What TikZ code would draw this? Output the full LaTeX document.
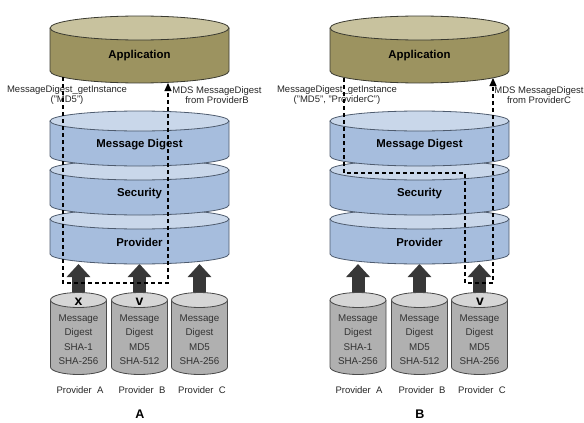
\documentclass[tikz,border=0pt]{standalone}
\usepackage{fontspec}
\setmainfont{Liberation Sans}
\usetikzlibrary{arrows.meta}

\definecolor{appT}{HTML}{C8C29E}
\definecolor{appS}{HTML}{9C9360}
\definecolor{appD}{HTML}{3A3A30}
\definecolor{layT}{HTML}{C9D7EA}
\definecolor{layS}{HTML}{A6BDDD}
\definecolor{layD}{HTML}{4E5B6E}
\definecolor{stoT}{HTML}{D6D6D6}
\definecolor{stoS}{HTML}{B0B0B0}
\definecolor{stoD}{HTML}{4A4A4A}
\definecolor{push}{HTML}{383838}

\pgfdeclarelayer{bg}
\pgfsetlayers{bg,main}

% drum: name, x, top y, bottom y, x radius, y radius, colour set, text, text style
\newcommand{\drum}[9]{%
  \fill[#7S] (#2-#5,#3) -- (#2-#5,#4) arc[start angle=180, end angle=360, x radius=#5pt, y radius=#6pt] -- (#2+#5,#3) -- cycle;
  \draw[#7D, line width=0.8pt] (#2-#5,#3) -- (#2-#5,#4) arc[start angle=180, end angle=360, x radius=#5pt, y radius=#6pt] -- (#2+#5,#3);
  \draw[#7D, line width=0.8pt, fill=#7T] (#2,#3) ellipse[x radius=#5pt, y radius=#6pt];
  \coordinate (#1-top) at (#2,#3);
  \coordinate (#1-bot) at (#2,{#4+#6});
  \node[#9] (#1) at (#2,{(#3+#4)/2+6}) {#8};
}

\tikzset{
  layer/.style={font=\fontsize{11.4}{13}\selectfont\bfseries},
  store/.style={font=\fontsize{9.8}{14.5}\selectfont, align=center, text=black!80},
  small/.style={font=\fontsize{9.5}{10.5}\selectfont, align=center, text=black!85},
  verdict/.style={font=\fontsize{14}{14}\selectfont\bfseries, inner sep=0pt},
  panel/.style={font=\fontsize{12.5}{12.5}\selectfont\bfseries},
  req/.style={draw=black, line width=1.1pt, dash pattern=on 4pt off 3pt},
  feed/.style={push, line width=13pt, -{Triangle[width=23pt,length=13pt]}},
}

\begin{document}
\begin{tikzpicture}[x=1pt, y=-1pt]
  \useasboundingbox (0,0) rectangle (584,423);

  % panel A
  \drum{stA1}{78.5}{300}{367}{28}{7.5}{sto}{Message\\Digest\\SHA-1\\SHA-256}{store}
  \drum{stA2}{139.5}{300}{367}{28}{7.5}{sto}{Message\\Digest\\MD5\\SHA-512}{store}
  \drum{stA3}{199.5}{300}{367}{28}{7.5}{sto}{Message\\Digest\\MD5\\SHA-256}{store}
  \drum{provA}{139.5}{219}{254}{89.5}{10}{lay}{Provider}{layer}
  \drum{secA}{139.5}{170}{205}{89.5}{10}{lay}{Security}{layer}
  \drum{digA}{139.5}{121}{156}{89.5}{10}{lay}{Message Digest}{layer}
  \drum{appA}{139.5}{28}{71}{89.5}{12}{app}{Application}{layer}

  % panel B
  \drum{stB1}{358}{300}{367}{28}{7.5}{sto}{Message\\Digest\\SHA-1\\SHA-256}{store}
  \drum{stB2}{419.5}{300}{367}{28}{7.5}{sto}{Message\\Digest\\MD5\\SHA-512}{store}
  \drum{stB3}{479.5}{300}{367}{28}{7.5}{sto}{Message\\Digest\\MD5\\SHA-256}{store}
  \drum{provB}{419.5}{219}{254}{89.5}{10}{lay}{Provider}{layer}
  \drum{secB}{419.5}{170}{205}{89.5}{10}{lay}{Security}{layer}
  \drum{digB}{419.5}{121}{156}{89.5}{10}{lay}{Message Digest}{layer}
  \drum{appB}{419.5}{28}{71}{89.5}{12}{app}{Application}{layer}

  \begin{pgfonlayer}{bg}
    \draw[feed] (stA1-top) -- (stA1-top |- provA-bot);
    \draw[feed] (stA2-top) -- (stA2-top |- provA-bot);
    \draw[feed] (stA3-top) -- (stA3-top |- provA-bot);
    \draw[feed] (stB1-top) -- (stB1-top |- provB-bot);
    \draw[feed] (stB2-top) -- (stB2-top |- provB-bot);
    \draw[feed] (stB3-top) -- (stB3-top |- provB-bot);
  \end{pgfonlayer}

  \node[verdict] (xA) at (78.5,302) {x};
  \node[verdict] (vA) at (139.5,302) {v};
  \node[verdict] (vB) at (480,302) {v};

  \node[small] (callA) at (67,95) {MessageDigest\_getInstance\\("MD5")};
  \node[small] (retA) at (217,95) {MDS MessageDigest\\from ProviderB};
  \node[small] (callB) at (337,95) {MessageDigest\_getInstance\\("MD5", "ProviderC")};
  \node[small] (retB) at (539,95) {MDS MessageDigest\\from ProviderC};

  \node[small] (nA1) at (80,390) {Provider~ A};
  \node[small] (nA2) at (142,390) {Provider~ B};
  \node[small] (nA3) at (202,390) {Provider~ C};
  \node[small] (nB1) at (359,390) {Provider~ A};
  \node[small] (nB2) at (422,390) {Provider~ B};
  \node[small] (nB3) at (482,390) {Provider~ C};

  \node[panel] (capA) at (140,414) {A};
  \node[panel] (capB) at (420,414) {B};

  % request paths
  \coordinate (sA) at (63,77);
  \coordinate (turnA) at (168,283);
  \coordinate (eA) at (168,83);
  \draw[req, -{Triangle[width=7pt,length=8pt]}] (sA) |- (turnA) -- (eA);

  \coordinate (sB) at (344,78);
  \coordinate (kB) at (465,173);
  \coordinate (lB) at (493,283);
  \coordinate (eB) at (493,78);
  \draw[req, -{Triangle[width=7pt,length=8pt]}] (sB) |- (kB) |- (lB) -- (eB);
\end{tikzpicture}
\end{document}
